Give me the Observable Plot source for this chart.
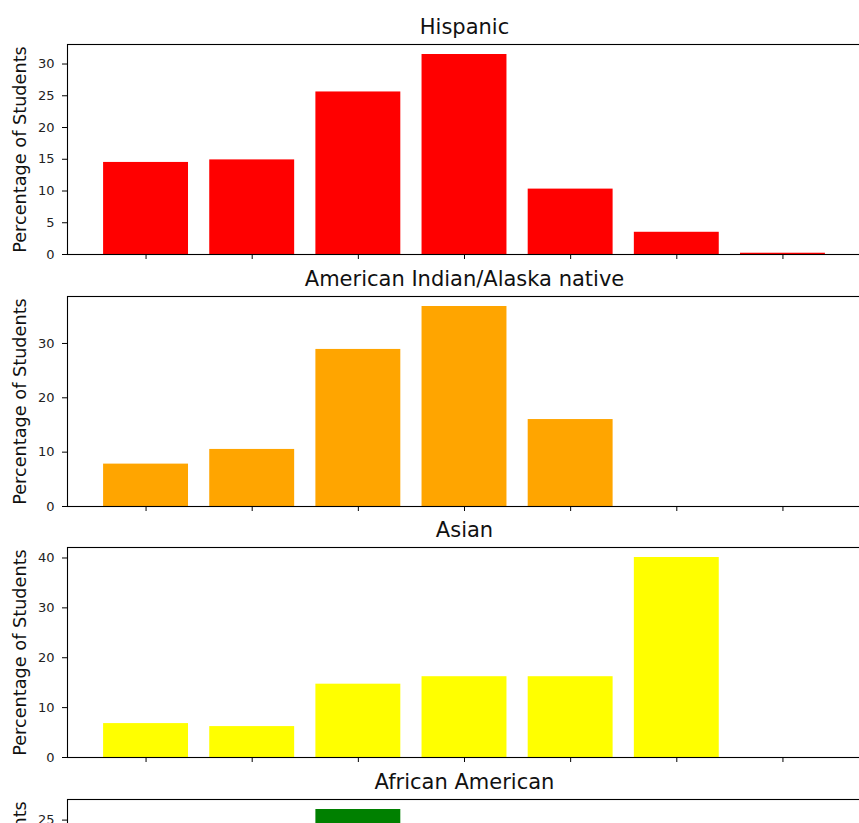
<!DOCTYPE html>
<html>
<head>
<meta charset="utf-8">
<script src="https://cdn.jsdelivr.net/npm/d3@7"></script>
<script src="https://cdn.jsdelivr.net/npm/@observablehq/plot@0.6"></script>
<style>
  html, body { margin: 0; padding: 0; background: #fff; overflow: hidden; }
  #chart { position: relative; width: 859px; height: 823px; overflow: hidden; font-family: "DejaVu Sans", sans-serif; }
  #chart svg { position: absolute; left: 0; max-width: none !important; background: transparent !important; }
</style>
</head>
<body>
<div id="chart"></div>
<script>
// Seven levels along the shared x axis (unlabelled on these panels)
const levels = [0, 1, 2, 3, 4, 5, 6];

// One panel per group
const groups = ["Hispanic", "American Indian/Alaska native", "Asian", "African American"];

// Percentage of students at each level, per group
const hispanic        = [14.5, 14.9, 25.6, 31.5, 10.3, 3.5, 0.2];
const americanIndian  = [7.8, 10.5, 28.9, 36.8, 16.0, 0, 0];
const asian           = [6.8, 6.2, 14.7, 16.2, 16.2, 40.1, 0];
const africanAmerican = [11.5, 16.8, 26.4, 23.1, 14.9, 6.2, 1.1];

const barColors = ["#ff0000", "#ffa500", "#ffff00", "#008000"];

// y tick values per panel
const yTicks = [
  [0, 5, 10, 15, 20, 25, 30],
  [0, 10, 20, 30],
  [0, 10, 20, 30, 40],
  [0, 5, 10, 15, 20, 25]
];

const series = [hispanic, americanIndian, asian, africanAmerican];
const chart = document.getElementById("chart");
const panelStep = 251.6;

series.forEach((vals, i) => {
  const rows = levels.map((k, j) => ({k, v: vals[j]}));
  const ymax = d3.max(vals) * 1.05;
  const plot = Plot.plot({
    width: 861,
    height: 266,
    marginLeft: 67,
    marginRight: 0,
    marginTop: 44,
    marginBottom: 12,
    style: {background: "transparent", fontFamily: "DejaVu Sans", fontSize: "12px", color: "black", overflow: "visible"},
    x: {domain: [-0.74, 6.74]},
    y: {domain: [0, ymax]},
    marks: [
      Plot.rectY(rows, {x1: d => d.k - 0.4, x2: d => d.k + 0.4, y1: 0, y2: "v", fill: barColors[i]}),
      Plot.axisY({ticks: yTicks[i], tickSize: 5, tickPadding: 8, label: null, fontSize: 13, fill: "#222"}),
      Plot.axisX({ticks: levels, tickSize: 5, tickFormat: () => "", label: null}),
      Plot.frame({stroke: "black", strokeWidth: 1.1}),
      Plot.text([groups[i]], {frameAnchor: "top", textAnchor: "middle", lineAnchor: "bottom", dy: -10.5, fontSize: 21, fill: "#111"}),
      Plot.text(["Percentage of Students"], {frameAnchor: "left", textAnchor: "middle", rotate: -90, lineAnchor: "bottom", dx: -42, fontSize: 17.7, fill: "#111"})
    ]
  });
  plot.style.top = (i * panelStep) + "px";
  chart.appendChild(plot);
});
</script>
</body>
</html>
